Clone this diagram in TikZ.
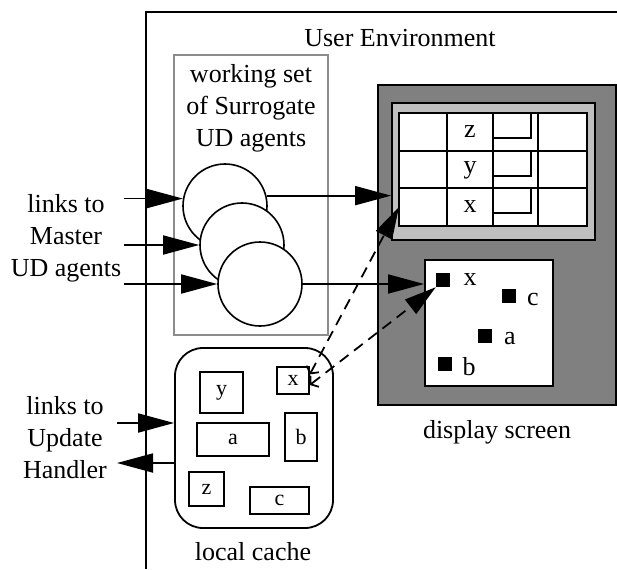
\documentclass[tikz,border=0pt]{standalone}
\usepackage{fontspec}
\setmainfont{Liberation Serif}
\usetikzlibrary{arrows.meta}

\definecolor{screengray}{gray}{0.5}
\definecolor{panelgray}{gray}{0.75}
\definecolor{setgray}{gray}{0.55}

\tikzset{
  lbl/.style={inner sep=0pt, align=center, font=\fontsize{26}{32}\selectfont},
  cachelbl/.style={font=\fontsize{22}{26}\selectfont},
  agent/.style={circle, draw, fill=white, line width=1.6pt, minimum size=84pt, inner sep=0pt},
  item/.style={rectangle, draw, line width=1.6pt, inner sep=0pt, cachelbl},
  dot/.style={rectangle, fill=black, minimum size=14pt, inner sep=0pt},
  big/.style={-{Triangle[length=36pt,width=19pt]}, line width=1.8pt},
  dashlink/.style={{Straight Barb[length=5pt,width=14pt]}-{Triangle[length=32pt,width=18pt]},
                   line width=1.8pt, dash pattern=on 11pt off 7pt}
}

\begin{document}
\begin{tikzpicture}[x=1pt, y=-1pt]
    \useasboundingbox (0,0) rectangle (617,569);

    % user environment
    \draw[line width=2.2pt] (146,569) |- (617,12);
    \node[lbl] (env) at (400,38) {User Environment};

    % working set of surrogate agents
    \node[draw=setgray, line width=1.8pt, minimum width=154pt, minimum height=280pt,
          inner sep=0pt] (wset) at (251,195) {};
    \node[lbl] (wsettxt) at (251,108) {working set\\of Surrogate\\UD agents};
    \node[agent] (c1) at (225,206) {};
    \node[agent] (c2) at (242,245) {};
    \node[agent] (c3) at (260,284) {};

    \node[lbl] (master) at (66,238) {links to\\Master\\UD agents};
    \coordinate (m1) at (124,0);
    \draw[big] (c1.170 -| m1) -- (c1.170);
    \draw[big] (c2.west -| m1) -- (c2.west);
    \draw[big] (c3.west -| m1) -- (c3.west);

    % display screen
    \draw[line width=1.8pt, fill=screengray] (378,85) rectangle (616,405);
    \node[lbl] (disp) at (497,432) {display screen};
    \node[draw, line width=1.8pt, fill=panelgray, minimum width=203pt, minimum height=137pt,
          inner sep=0pt] (panel) at (493.5,171.5) {};
    \fill[white] (399,113) rectangle (587,226);
    \foreach \x in {447,493,538}
        \draw[line width=1.4pt] (\x,113) -- (\x,226);
    \foreach \y in {151,188}
        \draw[line width=1.4pt] (399,\y) -- (587,\y);
    \foreach \y/\t [count=\r] in {113/z,151/y,188/x} {
        \draw[line width=1.8pt] (493,\y+25) -- (531,\y+25) -- (531,\y);
        \node[lbl] (row\r) at (470,\y+19) {\t};
        \coordinate (cell\r) at (399,\y+19);
    }
    \draw[line width=1.8pt] (399,113) rectangle (587,226);

    \node[draw, line width=1.8pt, fill=white, minimum width=128pt, minimum height=126pt,
          inner sep=0pt] (scr) at (489,323) {};
    \node[dot] (sx) at (443,280) {};
    \node[lbl] at (470,280) {x};
    \node[dot] (sc) at (509,296) {};
    \node[lbl] at (533,299) {c};
    \node[dot] (sa) at (485,336) {};
    \node[lbl] at (510,339) {a};
    \node[dot] (sb) at (445,364) {};
    \node[lbl] at (469,367) {b};

    \draw[big] (c1.14) -- (c1.14 -| panel.west);
    \draw[big] (c3.east) -- (c3.east -| scr.west);

    % local cache
    \node[draw, line width=1.8pt, rounded corners=28pt, minimum width=158pt, minimum height=180pt,
          inner sep=0pt] (cache) at (254,438) {};
    \node[lbl] (cachetxt) at (253,552) {local cache};
    \node[item, minimum width=43pt, minimum height=41pt] (iy) at (221.5,392.5) {y};
    \node[item, minimum width=32pt, minimum height=27pt] (ix) at (293,380.5) {x};
    \node[item, minimum width=72pt, minimum height=33pt] (ia) at (233,439.5) {a};
    \node[item, minimum width=32pt, minimum height=48pt] (ib) at (301,437) {b};
    \node[item, minimum width=35pt, minimum height=34pt] (iz) at (206.5,489) {z};
    \node[item, minimum width=59pt, minimum height=27pt] (ic) at (279.5,500.5) {c};

    \draw[dashlink] (ix.20) -- (cell3);
    \draw[dashlink] (ix.-15) -- (sx.south west);

    \node[lbl] (update) at (65,438) {links to\\Update\\Handler};
    \coordinate (ui) at (117,423);
    \coordinate (uo) at (117,463);
    \draw[big] (ui) -- (ui -| cache.west);
    \draw[big] (uo -| cache.west) -- (uo);
\end{tikzpicture}
\end{document}
